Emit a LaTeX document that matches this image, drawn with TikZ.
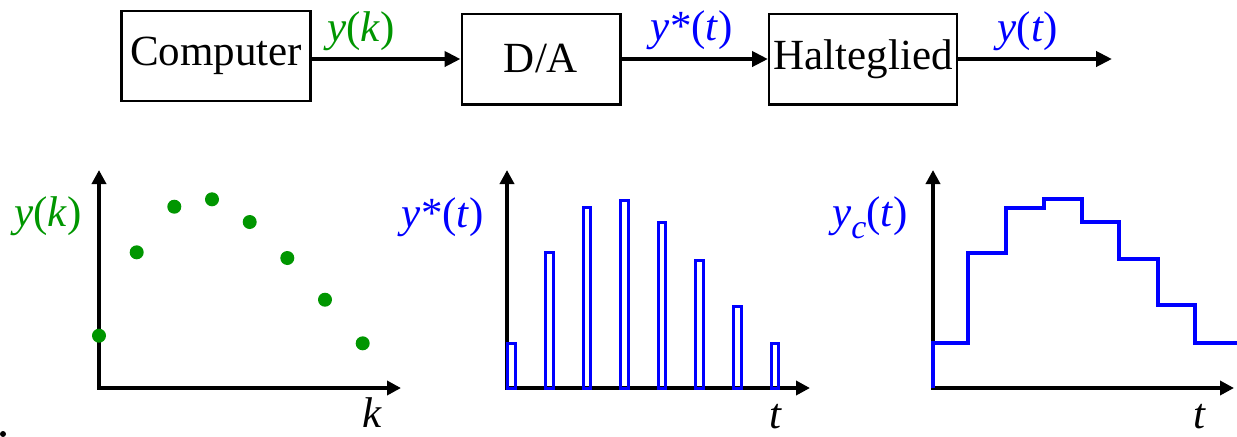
\documentclass[tikz,border=0pt]{standalone}
\usepackage{fontspec}
\setmainfont{Liberation Serif}
\usetikzlibrary{arrows.meta}
\definecolor{dgreen}{RGB}{0,150,0}
\definecolor{sblue}{RGB}{0,0,255}
\begin{document}
\begin{tikzpicture}[x=0.5pt,y=-0.5pt,
  txt/.style={font=\fontsize{21.5}{26}\selectfont, inner sep=0pt},
  blk/.style={draw, line width=1.2pt, txt},
  conn/.style={line width=2.3pt, -{Triangle[length=8pt,width=7.5pt]}},
  axis/.style={line width=2pt, line join=miter, {Triangle[length=7pt,width=7pt]}-{Triangle[length=7pt,width=7pt]}},
  dot/.style={fill=dgreen},
  bar/.style={draw=sblue, line width=1.5pt},
  stair/.style={draw=sblue, line width=2pt, line join=miter}]
\useasboundingbox (0,0) rectangle (1237,436);

% block diagram
\node[blk, minimum width=94.5pt, minimum height=45pt] (comp) at (216,56) {Computer};
\node[blk, minimum width=79.3pt, minimum height=45.3pt] (da) at (541,59) {D/A};
\node[blk, minimum width=93.8pt, minimum height=45.3pt] (hg) at (863,59) {Halteglied};
\coordinate (out) at (1112,59);
\draw[conn] (comp.east |- da.west) -- (da.west);
\draw[conn] (da.east) -- (hg.west);
\draw[conn] (hg.east) -- (out);
\node[txt, text=dgreen] (lyk) at (361,31) {\textit{y}(\textit{k})};
\node[txt, text=sblue] (lys) at (692,30) {\textit{y}*(\textit{t})};
\node[txt, text=sblue] (lyt) at (1028,31) {\textit{y}(\textit{t})};

% plot 1
\coordinate (o1) at (99,388); \coordinate (y1) at (99,170); \coordinate (x1) at (401,388);
\draw[axis] (y1) -- (o1) -- (x1);
\foreach \px/\py in {99/335.7,136.7/252.3,174.3/206.7,212/199.3,249.7/222,287.3/258,325/299.7,362.7/343.3}
  \fill[dot] (\px,\py) circle (3.5pt);
\node[txt, text=dgreen] (l1) at (48,216) {\textit{y}(\textit{k})};
\node[txt] (k1) at (372,413) {\textit{k}};

% plot 2
\coordinate (o2) at (507,388); \coordinate (y2) at (507,170); \coordinate (x2) at (810,388);
\draw[axis] (y2) -- (o2) -- (x2);
\foreach \i/\top in {0/343,1/252,2/207,3/200,4/222,5/260.5,6/306,7/343.5}
  \draw[bar] (507.8+37.6*\i,388) rectangle (515.4+37.6*\i,\top);
\node[txt, text=sblue] (l2) at (443,217) {\textit{y}*(\textit{t})};
\node[txt] (t2) at (776,417) {\textit{t}};

% plot 3
\coordinate (o3) at (933,388); \coordinate (y3) at (933,170); \coordinate (x3) at (1234,388);
\draw[axis] (y3) -- (o3) -- (x3);
\draw[stair] (933,388) -- (933,342.7) -- (967.7,342.7) -- (967.7,252.7) -- (1006,252.7) -- (1006,207.7)
  -- (1044,207.7) -- (1044,199.3) -- (1081.7,199.3) -- (1081.7,221.7) -- (1119,221.7) -- (1119,259.3)
  -- (1157.7,259.3) -- (1157.7,305) -- (1195,305) -- (1195,342.7) -- (1237,342.7);
\node[txt, text=sblue] (l3) at (870,218) {\textit{y}\raisebox{-0.28em}{\fontsize{17}{20}\selectfont\textit{c}}(\textit{t})};
\node[txt] (t3) at (1200,417) {\textit{t}};

\fill (3,434) circle (1.5pt);
\end{tikzpicture}
\end{document}
